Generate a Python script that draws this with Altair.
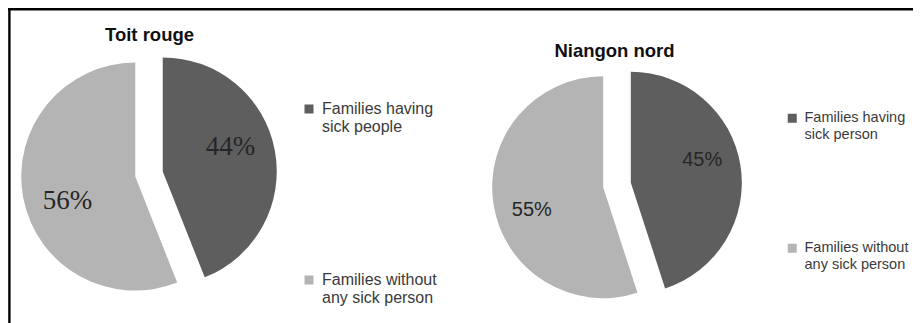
import altair as alt
import pandas as pd

# ---- data ----
panel_titles = ["Toit rouge", "Niangon nord"]
categories_left = ["Families having sick people", "Families without any sick person"]
categories_right = ["Families having sick person", "Families without any sick person"]
values_left = [44, 56]
values_right = [45, 55]

# ---- style / layout ----
colors = ["#5e5e5e", "#b4b4b4"]
W, H = 905, 318

layouts = [
    dict(cx=141, cy=166, r=114, explode=14, label_r=72, label_shift=-9,
         label_font="Liberation Serif", label_size=27,
         title_x=141.5, title_y=33, title_size=18.5,
         leg_x=293, leg_y=93, leg_gap=137, leg_size=16),
    dict(cx=609, cy=177, r=111, explode=14, label_r=75, label_shift=-9,
         label_font="Liberation Sans", label_size=20,
         title_x=606.5, title_y=49, title_size=18.5,
         leg_x=777, leg_y=103, leg_gap=98, leg_size=14.5),
]

label_expr = ("[join(slice(split(datum.label, ' '), 0, 2), ' '), "
              "join(slice(split(datum.label, ' '), 2), ' ')]")


def pie(cats, vals, title, L):
    df = pd.DataFrame({"category": cats, "value": vals, "idx": list(range(len(cats)))})
    sh = L["label_shift"] * 3.141592653589793 / 180
    base = (
        alt.Chart(df)
        .transform_joinaggregate(total="sum(value)")
        .transform_window(cum="sum(value)", sort=[alt.SortField("idx")], frame=[None, 0])
        .transform_calculate(mid="2*PI*(datum.cum - datum.value/2)/datum.total")
        .transform_calculate(px=f"{L['cx']} + {L['explode']}*sin(datum.mid)")
        .transform_calculate(py=f"{L['cy']} - {L['explode']}*cos(datum.mid)")
        .transform_calculate(lx=f"datum.px + {L['label_r']}*sin(datum.mid + ({sh}))")
        .transform_calculate(ly=f"datum.py - {L['label_r']}*cos(datum.mid + ({sh}))")
        .transform_calculate(pct="datum.value + '%'")
    )
    arc = base.mark_arc(radius=L["r"]).encode(
        theta=alt.Theta("value:Q", stack=True),
        order=alt.Order("idx:Q"),
        color=alt.Color(
            "category:N",
            scale=alt.Scale(domain=cats, range=colors),
            legend=alt.Legend(
                title=None, orient="none", legendX=L["leg_x"], legendY=L["leg_y"],
                direction="vertical", symbolType="square", symbolSize=81,
                symbolStrokeWidth=0, labelFont="Liberation Sans",
                labelFontSize=L["leg_size"], labelColor="#3a3a3a",
                rowPadding=L["leg_gap"], labelOffset=5, labelLimit=400,
                labelExpr=label_expr, padding=0,
            ),
        ),
        x=alt.X("px:Q", scale=None),
        y=alt.Y("py:Q", scale=None),
    )
    txt = base.mark_text(font=L["label_font"], fontSize=L["label_size"], color="#262626").encode(
        x=alt.X("lx:Q", scale=None),
        y=alt.Y("ly:Q", scale=None),
        text="pct:N",
    )
    ttl = alt.Chart(pd.DataFrame({"title": [title]})).mark_text(
        font="Liberation Sans", fontWeight="bold", fontSize=L["title_size"],
        baseline="alphabetic", color="#111111",
    ).encode(x=alt.value(L["title_x"]), y=alt.value(L["title_y"]), text="title:N")
    return [arc, txt, ttl]


border_top = alt.Chart(alt.Data(values=[{}])).mark_rule(color="black", strokeWidth=2.6).encode(
    x=alt.value(0), x2=alt.value(W), y=alt.value(1.3))
border_left = alt.Chart(alt.Data(values=[{}])).mark_rule(color="black", strokeWidth=2.4).encode(
    x=alt.value(1.4), y=alt.value(0), y2=alt.value(H))

layers = [border_top, border_left]
layers += pie(categories_left, values_left, panel_titles[0], layouts[0])
layers += pie(categories_right, values_right, panel_titles[1], layouts[1])

chart = (
    alt.layer(*layers)
    .resolve_scale(color="independent", theta="independent")
    .properties(width=W, height=H, padding=0,
                autosize=alt.AutoSizeParams(type="none"), background="white")
    .configure_view(stroke=None)
)

chart.save("out.html", embed_options={"renderer": "svg", "actions": False})
